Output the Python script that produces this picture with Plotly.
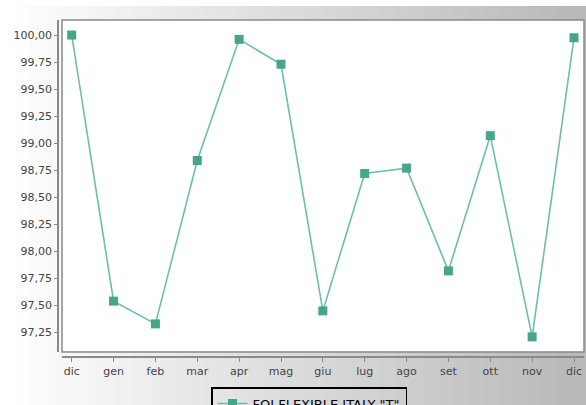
import plotly.graph_objects as go

months = ["dic", "gen", "feb", "mar", "apr", "mag", "giu", "lug", "ago", "set", "ott", "nov", "dic"]
values = [100.00, 97.54, 97.33, 98.84, 99.96, 99.73, 97.45, 98.72, 98.77, 97.82, 99.07, 97.21, 99.975]
series_name = 'FOI FLEXIBLE ITALY "T"'
ytick_vals = [97.25, 97.50, 97.75, 98.00, 98.25, 98.50, 98.75, 99.00, 99.25, 99.50, 99.75, 100.00]

W, H = 586, 405
xi = list(range(len(months)))

fig = go.Figure()
fig.add_trace(go.Scatter(
    x=xi, y=values, mode="lines+markers", name=series_name,
    line=dict(color="#6cbfa9", width=1.6),
    marker=dict(symbol="square", size=9, color="#45a68c"),
))

# background gradient strips
shapes = []
n = 40
top = 1 - 6 / H
for i in range(n):
    t = i / (n - 1)
    c = int(255 - t * 70)
    shapes.append(dict(type="rect", xref="paper", yref="paper",
                       x0=i / n, x1=(i + 1) / n + 0.002, y0=0, y1=top,
                       fillcolor=f"rgb({c},{c},{c})", line=dict(width=0), layer="below"))

px0, px1 = 62 / W, 584 / W
py1, py0 = 1 - 20 / H, 1 - 352 / H
shapes.append(dict(type="rect", xref="paper", yref="paper", x0=px0, x1=px1, y0=py0, y1=py1,
                   fillcolor="white", line=dict(width=0), layer="below"))
shapes.append(dict(type="rect", xref="paper", yref="paper", x0=px0, x1=px1, y0=py0, y1=py1,
                   fillcolor="rgba(0,0,0,0)", line=dict(color="#8a8a8a", width=1.5), layer="above"))

fig.update_layout(
    width=W, height=H,
    margin=dict(l=0, r=0, t=0, b=0, autoexpand=False),
    paper_bgcolor="white", plot_bgcolor="rgba(0,0,0,0)",
    separators=",.",
    font=dict(family="DejaVu Sans", size=11, color="#444444"),
    shapes=shapes,
    showlegend=True,
    legend=dict(x=211 / W, xanchor="left", y=1 - 387 / H, yanchor="top",
                orientation="h", bgcolor="rgba(0,0,0,0)", bordercolor="#000000", borderwidth=1.5,
                itemwidth=30,
                font=dict(family="DejaVu Sans", size=13, color="#000000")),
    xaxis=dict(domain=[px0, px1], range=[-0.232, 12.239], tickmode="array",
               tickvals=xi, ticktext=months, showgrid=False, zeroline=False,
               anchor="free", position=1 - 357 / H, showline=True, linecolor="#8a8a8a", linewidth=1.5,
               ticks="outside", ticklen=4, tickcolor="#8a8a8a", automargin=False,
               tickfont=dict(family="DejaVu Sans", size=11, color="#444444")),
    yaxis=dict(domain=[py0, py1], range=[97.07, 100.139], tickmode="array",
               tickvals=ytick_vals, tickformat=".2f", showgrid=False, zeroline=False,
               anchor="free", position=58 / W, showline=True, linecolor="#8a8a8a", linewidth=1.5,
               ticks="outside", ticklen=3, tickcolor="#8a8a8a", automargin=False,
               tickfont=dict(family="DejaVu Sans", size=11, color="#444444")),
)

fig.write_html("out.html", config={"displayModeBar": False},
               post_script="document.body.style.margin='0px';document.body.style.overflow='hidden';")
